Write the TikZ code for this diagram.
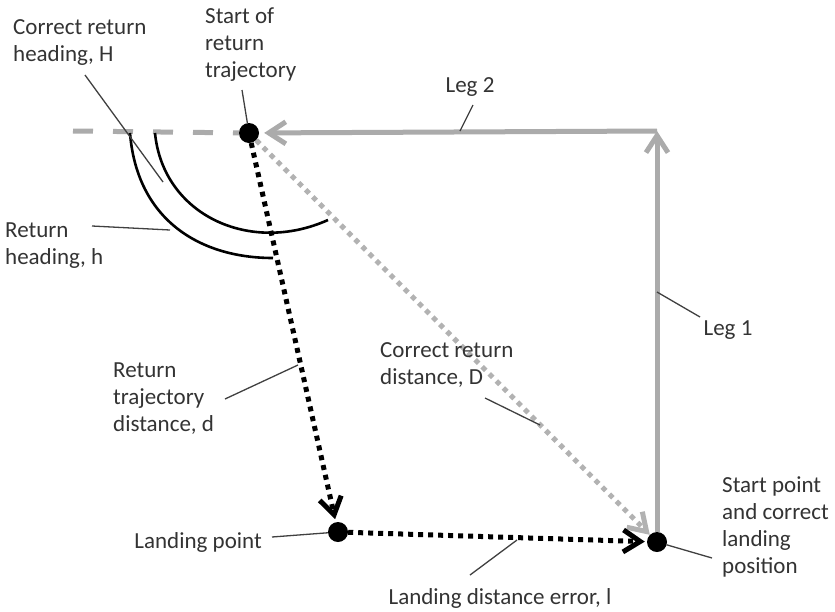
\documentclass[tikz,border=0pt]{standalone}
\usepackage{fontspec}
\setmainfont{Carlito}
\usetikzlibrary{arrows.meta}

\begin{document}
\begin{tikzpicture}[x=1pt,y=-1pt,>={Straight Barb[length=17pt,width=22pt]},
  every node/.style={font=\fontsize{23}{27}\selectfont,text=black!80,inner sep=2pt},
  dot/.style={circle,fill=black,inner sep=0pt,minimum size=20pt},
  leg/.style={line width=5pt,draw=black!33},
  blackdots/.style={line width=5pt,dash pattern=on 5pt off 5pt},
  graydots/.style={line width=5pt,draw=black!30,dash pattern=on 5pt off 5pt},
  lead/.style={line width=1.3pt,draw=black!75}]
\useasboundingbox (0,0) rectangle (835,611);
% points
\node[dot] (S) at (249,133) {};
\node[dot] (L) at (338,532) {};
\node[dot] (E) at (657,542) {};
\coordinate (C) at (657,131);
\coordinate (W) at (73,131);
% legs
\draw[leg,->] (E) -- (C);
\draw[leg,->,shorten >=5pt] (C) -- (S);
\draw[leg,dash pattern=on 20pt off 20pt] (W) -- (S);
% return paths
\draw[graydots,->,draw=black!30] (S) -- (E);
\draw[blackdots,->,shorten >=3pt] (S) -- (L);
\draw[blackdots,->,shorten >=2pt] (L) -- (E);
% heading arcs
\draw[line width=2.6pt] (130,133) .. controls (137,220) and (200,258) .. (273,258);
\draw[line width=2.6pt] (155,133) .. controls (163,215) and (250,255) .. (328,220);
% labels
\node[align=left,anchor=west] (Hlab) at (11,43) {Correct return\\heading, H};
\node[align=left,anchor=west] (Slab) at (203,45) {Start of\\return\\trajectory};
\node (leg2) at (470,87) {Leg 2};
\node[align=left,anchor=west] (hlab) at (3,246) {Return\\heading, h};
\node (leg1) at (728,330) {Leg 1};
\node[align=left,anchor=west] (Dlab) at (378,365) {Correct return\\distance, D};
\node[align=left,anchor=west] (dlab) at (111,399) {Return\\trajectory\\distance, d};
\node[anchor=east] (llab) at (264,542) {Landing point};
\node (errlab) at (500,598) {Landing distance error, l};
\node[align=left,anchor=west] (Elab) at (720,527) {Start point\\and correct\\landing\\position};
% leader lines
\coordinate (Ha) at (85,75);   \coordinate (Hb) at (163,182);
\coordinate (Sa) at (242,90);
\coordinate (Ga) at (473,105); \coordinate (Gb) at (460,131);
\coordinate (ha) at (92,226);  \coordinate (hb) at (170,230);
\coordinate (Ka) at (700,317); \coordinate (Kb) at (657,292);
\coordinate (Da) at (485,398); \coordinate (Db) at (540,425);
\coordinate (da) at (225,399); \coordinate (db) at (298,365);
\coordinate (la) at (272,537);
\coordinate (ea) at (470,575); \coordinate (eb) at (517,540);
\coordinate (Ea) at (712,558);
\draw[lead] (Ha) -- (Hb);
\draw[lead] (Sa) -- (S);
\draw[lead] (Ga) -- (Gb);
\draw[lead] (ha) -- (hb);
\draw[lead] (Ka) -- (Kb);
\draw[lead] (Da) -- (Db);
\draw[lead] (da) -- (db);
\draw[lead] (la) -- (L);
\draw[lead] (ea) -- (eb);
\draw[lead] (Ea) -- (E);
\end{tikzpicture}
\end{document}
